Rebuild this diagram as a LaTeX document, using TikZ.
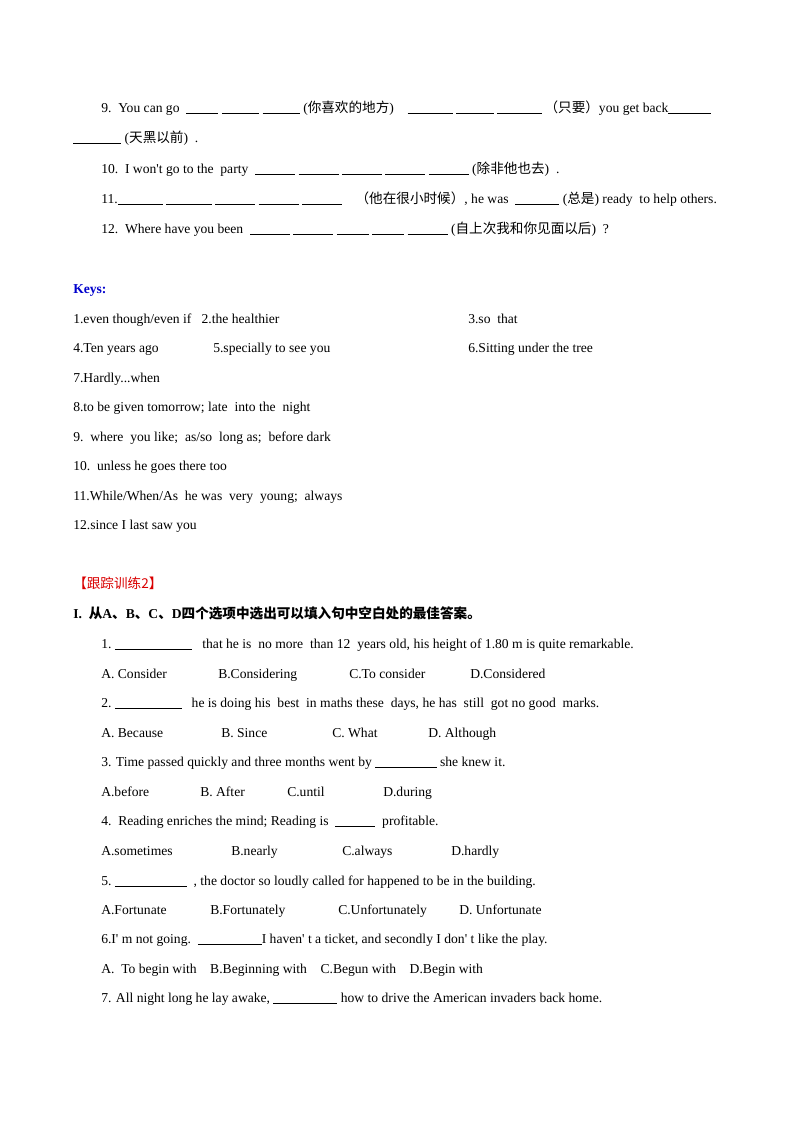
\documentclass[tikz,border=0pt]{standalone}
\usepackage{fontspec}
\setmainfont{Liberation Serif}
\newfontfamily\cjk{Noto Sans CJK SC}
\begin{document}
\begin{tikzpicture}[x=0.75pt,y=-0.75pt,
  t/.style={anchor=base west,inner sep=0pt,font=\fontsize{10.2pt}{12pt}\selectfont},
  red/.style={text=red!85!black},blu/.style={text=blue!80!black}]
\useasboundingbox (0,0) rectangle (800,1132);
\newcommand\bl[1]{\rule[-1.5pt]{#1pt}{0.4pt}}
\newcommand\ap{\textquotesingle}
\node[t] (a1) at (101,112) {9.\ \ You can go\ \ \bl{24}\ \bl{28}\ \bl{28} ({\cjk 你喜欢的地方})\quad \bl{34}\ \bl{28}\ \bl{34}\,{\cjk （只要）}you get back\bl{32}};
\node[t] (a2) at (73,142) {\bl{36} ({\cjk 天黑以前})\ \ .};
\node[t] (a3) at (101,173) {10.\ \ I won\ap t go to the\ \ party\ \ \bl{30}\ \bl{30}\ \bl{30}\ \bl{30}\ \bl{30} ({\cjk 除非他也去})\ \ .};
\node[t] (a4) at (101,203) {11.\bl{34}\ \bl{34}\ \bl{30}\ \bl{30}\ \bl{30}\quad{\cjk （他在很小时候）}, he was\ \ \bl{33} ({\cjk 总是}) ready\ \ to help others.};
\node[t] (a5) at (101,233) {12.\ \ Where have you been\ \ \bl{30}\ \bl{30}\ \bl{24}\ \bl{24}\ \bl{30} ({\cjk 自上次我和你见面以后})\ \ ?};
\node[t,blu] (k) at (73,293) {\bfseries Keys:};
\node[t] (k1) at (73,323) {1.even though/even if\ \ \ 2.the healthier};
\node[t] (k1b) at (468,323) {3.so\ \ that};
\node[t] (k2) at (73,352) {4.Ten years ago};
\node[t] (k2a) at (213,352) {5.specially to see you};
\node[t] (k2b) at (468,352) {6.Sitting under the tree};
\node[t] (k3) at (73,382) {7.Hardly...when};
\node[t] (k4) at (73,411) {8.to be given tomorrow; late\ \ into the\ \ night};
\node[t] (k5) at (73,441) {9.\ \ where\ \ you like;\ \ as/so\ \ long as;\ \ before dark};
\node[t] (k6) at (73,470) {10.\ \ unless he goes there too};
\node[t] (k7) at (73,500) {11.While/When/As\ \ he was\ \ very\ \ young;\ \ always};
\node[t] (k8) at (73,529) {12.since I last saw you};
\node[t,red] (h) at (73,588) {\cjk 【跟踪训练2】};
\node[t] (h2) at (73,618) {\bfseries I.\ \ {\cjk 从}A{\cjk 、}B{\cjk 、}C{\cjk 、}D{\cjk 四个选项中选出可以填入句中空白处的最佳答案。}};
\node[t] (q1) at (101,648) {1.\ \bl{58}\ \ \ that he is\ \ no more\ \ than 12\ \ years old, his height of 1.80 m is quite remarkable.};
\node[t] at (101,678) {A. Consider}; \node[t] at (218,678) {B.Considering}; \node[t] at (349,678) {C.To consider}; \node[t] at (470,678) {D.Considered};
\node[t] (q2) at (101,707) {2.\ \bl{50}\ \ \ he is doing his\ \ best\ \ in maths these\ \ days, he has\ \ still\ \ got no good\ \ marks.};
\node[t] at (101,737) {A. Because}; \node[t] at (221,737) {B. Since}; \node[t] at (332,737) {C. What}; \node[t] at (428,737) {D. Although};
\node[t] (q3) at (101,766) {3. Time passed quickly and three months went by \bl{46} she knew it.};
\node[t] at (101,796) {A.before}; \node[t] at (200,796) {B. After}; \node[t] at (287,796) {C.until}; \node[t] at (383,796) {D.during};
\node[t] (q4) at (101,825) {4.\ \ Reading enriches the mind; Reading is\ \ \bl{30}\ \ profitable.};
\node[t] at (101,855) {A.sometimes}; \node[t] at (231,855) {B.nearly}; \node[t] at (342,855) {C.always}; \node[t] at (451,855) {D.hardly};
\node[t] (q5) at (101,885) {5.\ \bl{54}\ \ , the doctor so loudly called for happened to be in the building.};
\node[t] at (101,914) {A.Fortunate}; \node[t] at (210,914) {B.Fortunately}; \node[t] at (338,914) {C.Unfortunately}; \node[t] at (459,914) {D. Unfortunate};
\node[t] (q6) at (101,943) {6.I\ap\ m not going.\ \ \bl{48}I haven\ap\ t a ticket, and secondly I don\ap\ t like the play.};
\node[t] (o6) at (101,973) {A.\ \ To begin with\ \ \ \ B.Beginning with\ \ \ \ C.Begun with\ \ \ \ D.Begin with};
\node[t] (q7) at (101,1002) {7. All night long he lay awake, \bl{48} how to drive the American invaders back home.};
\end{tikzpicture}
\end{document}
